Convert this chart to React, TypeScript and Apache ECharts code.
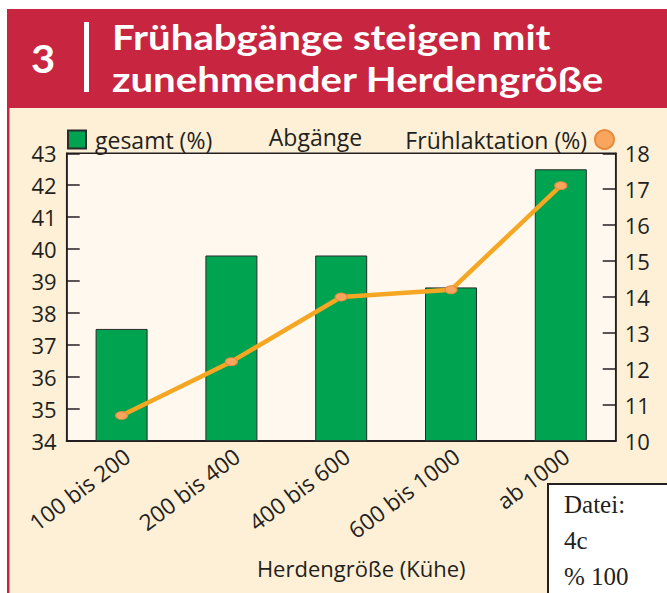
import React, { useEffect, useRef } from "react";
import * as echarts from "echarts";

const categories = ["100 bis 200", "200 bis 400", "400 bis 600", "600 bis 1000", "ab 1000"];
const abgaengeGesamt = [37.5, 39.8, 39.8, 38.8, 42.5];
const fruehlaktation = [10.7, 12.2, 14.0, 14.2, 17.1];
const titleLines = ["Frühabgänge steigen mit", "zunehmender Herdengröße"];
const fileInfo = ["Datei:", "4c", "% 100"];

const FONT = "'Open Sans', 'Noto Sans', sans-serif";
const TITLE_FONT = "Lato, 'Open Sans', sans-serif";
const DARK = "#231F20";

export default function App() {
  const ref = useRef<HTMLDivElement>(null);
  useEffect(() => {
    if (!ref.current) return;
    const chart = echarts.init(ref.current, undefined, { renderer: "svg" });
    const option: any = {
      animation: false,
      backgroundColor: "#FDF0D6",
      textStyle: { fontFamily: FONT, color: DARK },
      grid: {
        left: 66.7,
        right: 51.3,
        top: 153.3,
        bottom: 152.3,
        show: true,
        backgroundColor: "#FEF8EF",
        borderColor: DARK,
        borderWidth: 1.5,
        containLabel: false,
      },
      legend: [
        {
          data: ["gesamt (%)"],
          left: 67,
          top: 128,
          padding: 0,
          itemWidth: 18,
          itemHeight: 18,
          icon: "rect",
          textStyle: { fontSize: 23, color: DARK, fontFamily: FONT, padding: [0, 0, 0, 4] },
        },
        {
          data: ["Frühlaktation (%)"],
          right: 52,
          top: 128,
          padding: 0,
          align: "right",
          itemWidth: 19,
          itemHeight: 19,
          icon: "circle",
          textStyle: { fontSize: 23, color: DARK, fontFamily: FONT, padding: [0, 3, 0, 0] },
        },
      ],
      xAxis: {
        type: "category",
        data: categories,
        boundaryGap: true,
        axisLine: { lineStyle: { color: DARK, width: 2 } },
        axisTick: { inside: true, length: 7, lineStyle: { color: DARK, width: 1.5 } },
        axisLabel: {
          rotate: 37,
          fontSize: 22.5,
          color: DARK,
          fontFamily: FONT,
          margin: 17,
          interval: 0,
          padding: [11, -7, 0, 0],
        },
        name: "Herdengröße (Kühe)",
        nameLocation: "middle",
        nameGap: 116,
        nameTextStyle: { fontSize: 22, color: DARK, fontFamily: FONT, padding: [0, 0, 0, 40] },
      },
      yAxis: [
        {
          type: "value",
          min: 34,
          max: 43,
          interval: 1,
          splitLine: { show: false },
          axisLine: { show: true, lineStyle: { color: DARK, width: 1.5 } },
          axisTick: { show: true, inside: true, length: 13, lineStyle: { color: DARK, width: 1.5 } },
          axisLabel: { fontSize: 22, color: DARK, fontFamily: FONT, margin: 10 },
        },
        {
          type: "value",
          min: 10,
          max: 18,
          interval: 1,
          position: "right",
          splitLine: { show: false },
          axisLine: { show: true, lineStyle: { color: DARK, width: 1.5 } },
          axisTick: { show: true, inside: true, length: 13, lineStyle: { color: DARK, width: 1.5 } },
          axisLabel: { fontSize: 22, color: DARK, fontFamily: FONT, margin: 9 },
        },
      ],
      series: [
        {
          name: "gesamt (%)",
          type: "bar",
          data: abgaengeGesamt,
          barWidth: 52,
          itemStyle: { color: "#00A34F", borderColor: "#2B2B2B", borderWidth: 1 },
          z: 2,
        },
        {
          name: "Frühlaktation (%)",
          type: "line",
          yAxisIndex: 1,
          data: fruehlaktation,
          symbol: "circle",
          symbolSize: [12, 8],
          lineStyle: { color: "#F5A623", width: 4.5 },
          itemStyle: { color: "#F8A65E", borderColor: "#E8893E", borderWidth: 1 },
          z: 3,
        },
      ],
      graphic: [
        { type: "rect", shape: { x: 0, y: 0, width: 667, height: 9 }, style: { fill: "#FFFFFF" } },
        { type: "rect", shape: { x: 0, y: 0, width: 7, height: 593 }, style: { fill: "#FFFFFF" } },
        { type: "rect", shape: { x: 7, y: 9, width: 660, height: 99 }, style: { fill: "#C72540" } },
        { type: "rect", shape: { x: 7, y: 108, width: 2.5, height: 485 }, style: { fill: "#C72540" } },
        {
          type: "text",
          x: 43,
          y: 59,
          scaleX: 1.1,
          style: {
            text: "3",
            fill: "#FFFFFF",
            font: `bold 38px ${TITLE_FONT}`,
            textAlign: "center",
            textVerticalAlign: "middle",
          },
        },
        { type: "rect", shape: { x: 84, y: 22, width: 5, height: 70 }, style: { fill: "#FFFFFF" } },
        ...titleLines.map((t, i) => ({
          type: "text",
          x: 112,
          y: 37 + i * 42,
          scaleX: 1.165,
          style: {
            text: t,
            fill: "#FFFFFF",
            font: `bold 34.5px ${TITLE_FONT}`,
            textAlign: "left",
            textVerticalAlign: "middle",
          },
        })),
        {
          type: "text",
          x: 315.5,
          y: 137,
          style: {
            text: "Abgänge",
            fill: DARK,
            font: `23px ${FONT}`,
            textAlign: "center",
            textVerticalAlign: "middle",
          },
        },
        {
          type: "rect",
          shape: { x: 548, y: 484, width: 130, height: 120 },
          style: { fill: "#FFFFFF", stroke: DARK, lineWidth: 2 },
          z: 10,
        },
        ...fileInfo.map((t, i) => ({
          type: "text",
          x: 564,
          y: 504 + i * 36,
          z: 11,
          style: {
            text: t,
            fill: DARK,
            font: `25px 'Liberation Serif', 'Times New Roman', serif`,
            textAlign: "left",
            textVerticalAlign: "middle",
          },
        })),
      ],
    };
    chart.setOption(option);
    return () => chart.dispose();
  }, []);
  return (
    <div
      ref={ref}
      style={{ position: "fixed", left: 0, top: 0, width: 667, height: 593 }}
    />
  );
}
